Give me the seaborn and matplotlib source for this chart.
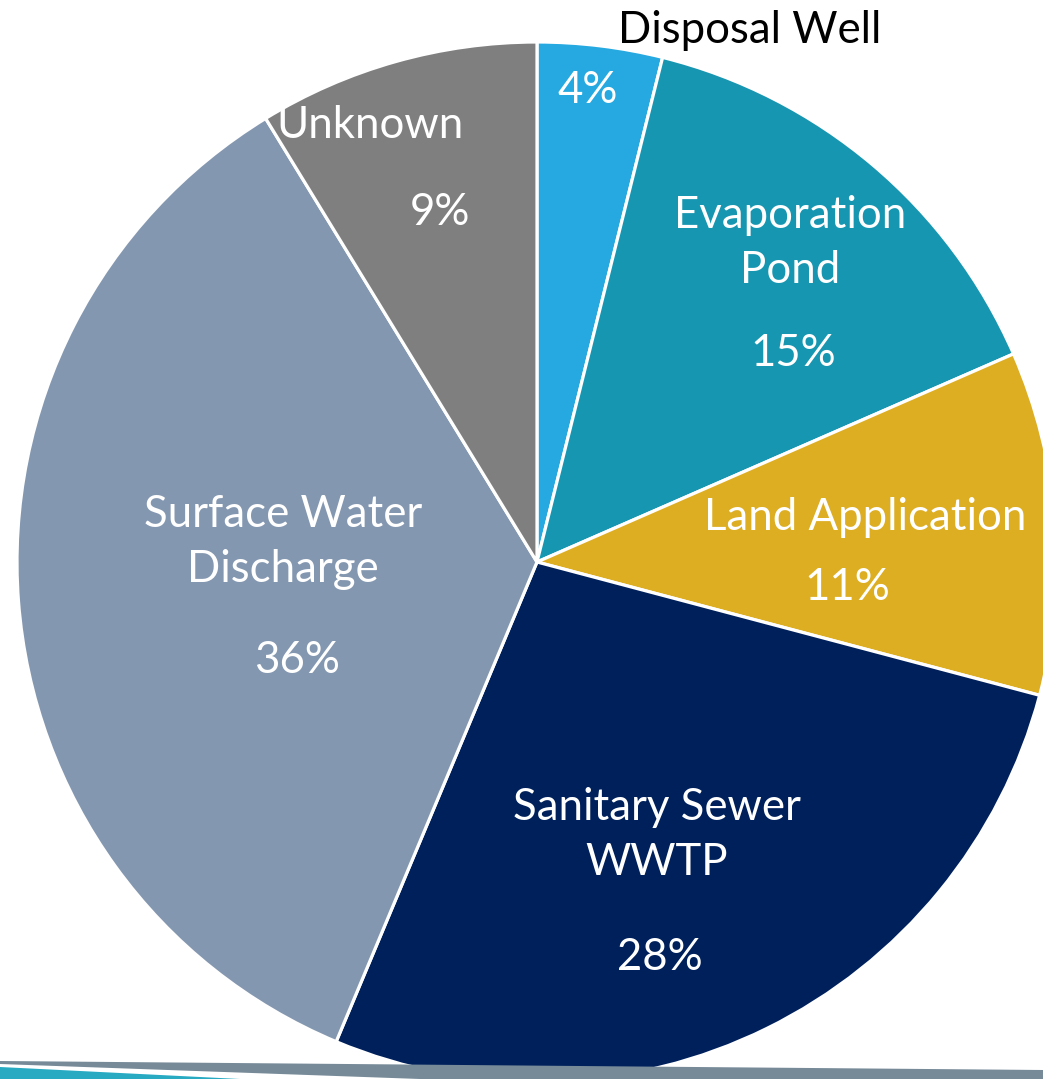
import matplotlib
matplotlib.use("Agg")
import matplotlib.pyplot as plt
from matplotlib.patches import Polygon
import seaborn as sns

# data
categories = ['Disposal Well', 'Evaporation\nPond', 'Land Application',
              'Sanitary Sewer\nWWTP', 'Surface Water\nDischarge', 'Unknown']
shares = [4, 15, 11, 28, 36, 9]
pct_labels = ['4%', '15%', '11%', '28%', '36%', '9%']
colors = ['#25A9E0', '#1696B0', '#DDAD22', '#00205C', '#8497B0', '#7F7F7F']

sns.set_theme(style='white')
plt.rcParams['font.family'] = ['Lato', 'DejaVu Sans']

W, H = 1043, 1079
CX, CY, R = 537, 562, 520

def to_data(px, py):
    return (px - CX) / R, (CY - py) / R

fig = plt.figure(figsize=(W / 100, H / 100), dpi=100)

# decorative bands at the slide bottom
def fig_poly(pts, color):
    p = Polygon([(x / W, 1 - y / H) for x, y in pts], closed=True,
                transform=fig.transFigure, facecolor=color, edgecolor='none', zorder=0)
    fig.patches.append(p)

fig_poly([(0, 1061), (W, 1070), (W, H), (420, H), (0, 1064)], '#768A98')
fig_poly([(0, 1067), (240, H), (0, H)], '#27AAC2')

ax = fig.add_axes([0, 0, 1, 1])
ax.patch.set_alpha(0)
ax.pie(shares, colors=colors, startangle=90, counterclock=False, radius=1,
       wedgeprops=dict(edgecolor='white', linewidth=2.3))
ax.set_xlim(-CX / R, (W - CX) / R)
ax.set_ylim(-(H - CY) / R, CY / R)
ax.set_aspect('equal')
ax.axis('off')

name_pos = [(750, 30), (790, 243), (865, 517), (657, 835), (283, 542), (370, 125)]
pct_pos = [(588, 90), (793, 353), (847, 587), (660, 957), (297, 660), (440, 212)]

for i, cat in enumerate(categories):
    col = 'black' if i == 0 else 'white'
    x, y = to_data(*name_pos[i])
    ax.text(x, y, cat, color=col, fontsize=31.5, ha='center', va='center',
            linespacing=1.45)
    x, y = to_data(*pct_pos[i])
    ax.text(x, y, pct_labels[i], color='white', fontsize=31.5, ha='center', va='center')

fig.savefig('out.png', dpi=100)
